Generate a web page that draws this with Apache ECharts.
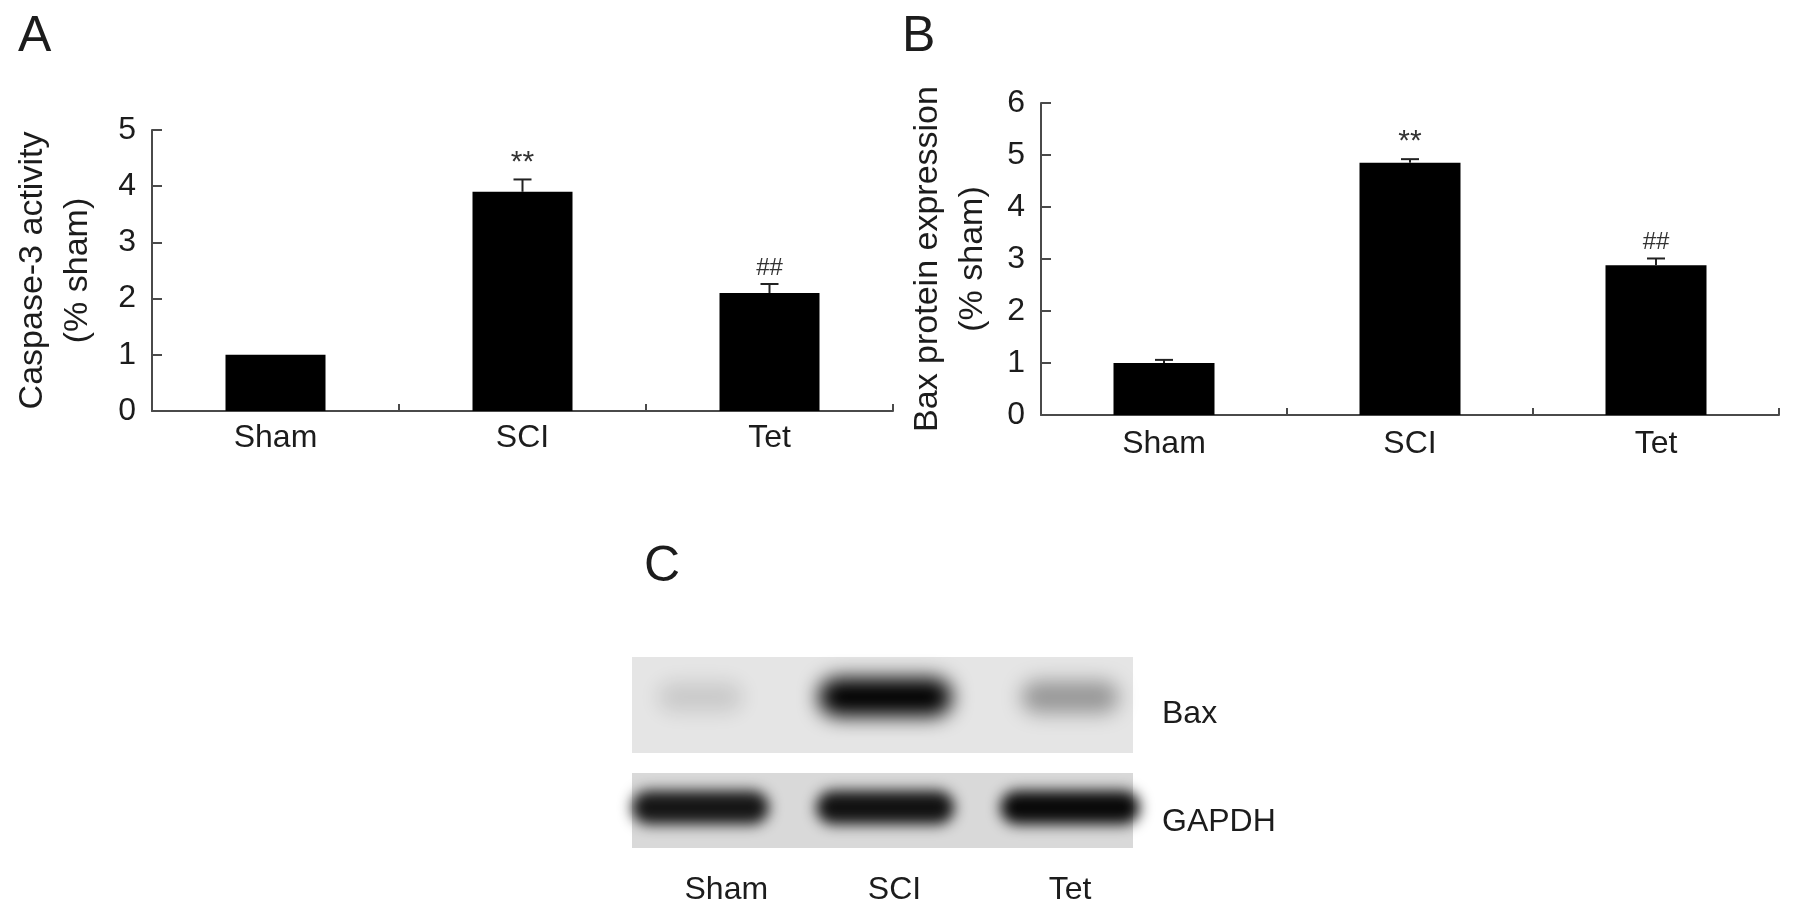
<!DOCTYPE html>
<html>
<head>
<meta charset="utf-8">
<script src="https://cdn.jsdelivr.net/npm/echarts@6/dist/echarts.min.js"></script>
<style>
  html, body { margin: 0; padding: 0; background: #fff; }
  #main { width: 1795px; height: 920px; }
</style>
</head>
<body>
<div id="main"></div>
<script>
// groups
var groups = ['Sham', 'SCI', 'Tet'];

// A: caspase-3 activity (% sham)
var caspaseMean = [1.0, 3.9, 2.1];
var caspaseErr = [0, 0.22, 0.16];
var caspaseSig = ['', '**', '##'];

// B: Bax protein expression (% sham)
var baxMean = [1.0, 4.85, 2.88];
var baxErr = [0.06, 0.07, 0.13];
var baxSig = ['', '**', '##'];

// C: blot band density (0..1)
var bandBax = [0.25, 0.9, 0.42];
var bandGapdh = [0.95, 0.96, 0.98];

var font = "'Liberation Sans', Arial, sans-serif";
var ink = '#1c1c1c';
var axisInk = '#4a4a4a';

var myChart = echarts.init(document.getElementById('main'));

function errData(mean, err, sig) {
  return mean.map(function (m, i) { return [i, m, err[i], sig[i]]; });
}

function renderErr(params, api) {
  var i = api.value(0), m = api.value(1), e = api.value(2);
  var s = params.seriesName === 'errB' ? baxSig[params.dataIndex] : caspaseSig[params.dataIndex];
  var base = api.coord([i, m]);
  var top = api.coord([i, m + e]);
  var kids = [];
  if (e > 0) {
    kids.push({ type: 'line', shape: { x1: top[0], y1: base[1], x2: top[0], y2: top[1] },
      style: { stroke: '#222', lineWidth: 2 } });
    kids.push({ type: 'line', shape: { x1: top[0] - 9, y1: top[1], x2: top[0] + 9, y2: top[1] },
      style: { stroke: '#222', lineWidth: 2 } });
  }
  if (s) {
    kids.push({ type: 'text', x: top[0], y: top[1] - (s === '**' ? 2 : 4),
      style: { text: s, fontFamily: font, fontSize: s === '**' ? 30 : 24, fill: '#333',
        align: 'center', verticalAlign: 'bottom' } });
  }
  return { type: 'group', children: kids };
}

// a blurred band: the shape sits off canvas, only its shadow lands on the lane
var FAR = 3000;
function makeBandRenderer(blur, dy, gain, hBase) {
  return function (params, api) {
    var v = api.value(1);
    var c = api.coord([api.value(0), 0]);
    var w = 66 + 75 * v, h = hBase + 14 * v;
    var a = Math.min(1, v * gain);
    var col = 'rgba(0,0,0,' + a.toFixed(3) + ')';
    return {
      type: 'rect',
      shape: { x: c[0] - w / 2 + FAR, y: c[1] - h / 2 + dy, width: w, height: h, r: h / 2 },
      style: { fill: col, shadowColor: col, shadowBlur: blur, shadowOffsetX: -FAR, shadowOffsetY: 0 }
    };
  };
}

function bandData(vals) {
  return vals.map(function (v, i) { return [i, v]; });
}

option = {
  animation: false,
  backgroundColor: '#fff',
  textStyle: { fontFamily: font },
  title: [
    { text: 'A', left: 18, top: 12, padding: 0, textStyle: { fontSize: 50, fontWeight: 'normal', color: ink, fontFamily: font } },
    { text: 'B', left: 902, top: 12, padding: 0, textStyle: { fontSize: 50, fontWeight: 'normal', color: ink, fontFamily: font } },
    { text: 'C', left: 644, top: 542, padding: 0, textStyle: { fontSize: 50, fontWeight: 'normal', color: ink, fontFamily: font } }
  ],
  grid: [
    { left: 152, top: 130, width: 741, height: 281 },
    { left: 1041, top: 103, width: 738, height: 312 },
    { left: 632, top: 657, width: 501, height: 96, show: true, backgroundColor: '#e5e5e5', borderWidth: 0 },
    { left: 632, top: 773, width: 501, height: 75, show: true, backgroundColor: '#d9d9d9', borderWidth: 0 }
  ],
  xAxis: [
    { gridIndex: 0, type: 'category', data: groups,
      axisLine: { show: true, lineStyle: { color: axisInk, width: 2 } },
      axisTick: { show: true, inside: true, length: 7, lineStyle: { color: axisInk, width: 2 } },
      axisLabel: { fontSize: 32, color: ink, margin: 11, fontFamily: font } },
    { gridIndex: 1, type: 'category', data: groups,
      axisLine: { show: true, lineStyle: { color: axisInk, width: 2 } },
      axisTick: { show: true, inside: true, length: 7, lineStyle: { color: axisInk, width: 2 } },
      axisLabel: { fontSize: 32, color: ink, margin: 13, fontFamily: font } },
    { gridIndex: 2, type: 'value', min: -0.37, max: 2.34,
      axisLine: { show: false }, axisTick: { show: false }, splitLine: { show: false }, axisLabel: { show: false } },
    { gridIndex: 3, type: 'value', min: -0.37, max: 2.34,
      axisLine: { show: false }, axisTick: { show: false }, splitLine: { show: false },
      axisLabel: { customValues: [0.14, 1.05, 2.0], fontSize: 32, color: ink, margin: 26, fontFamily: font,
        formatter: function (v) { return groups[Math.round(v)]; } } }
  ],
  yAxis: [
    { gridIndex: 0, type: 'value', min: 0, max: 5, interval: 1,
      name: 'Caspase-3 activity\n(% sham)', nameLocation: 'middle', nameRotate: 90, nameGap: 52,
      nameTextStyle: { fontSize: 34, color: ink, lineHeight: 45, fontFamily: font },
      axisLine: { show: true, lineStyle: { color: axisInk, width: 2 } },
      axisTick: { show: true, inside: true, length: 10, lineStyle: { color: axisInk, width: 2 } },
      splitLine: { show: false },
      axisLabel: { fontSize: 32, color: ink, margin: 16, fontFamily: font } },
    { gridIndex: 1, type: 'value', min: 0, max: 6, interval: 1,
      name: 'Bax protein expression\n(% sham)', nameLocation: 'middle', nameRotate: 90, nameGap: 46,
      nameTextStyle: { fontSize: 34, color: ink, lineHeight: 45, fontFamily: font },
      axisLine: { show: true, lineStyle: { color: axisInk, width: 2 } },
      axisTick: { show: true, inside: true, length: 10, lineStyle: { color: axisInk, width: 2 } },
      splitLine: { show: false },
      axisLabel: { fontSize: 32, color: ink, margin: 16, fontFamily: font } },
    { gridIndex: 2, type: 'value', min: -1, max: 1, position: 'right',
      axisLine: { show: false }, axisTick: { show: false }, splitLine: { show: false },
      axisLabel: { customValues: [-0.2], fontSize: 32, color: ink, margin: 29, fontFamily: font,
        formatter: function () { return 'Bax'; } } },
    { gridIndex: 3, type: 'value', min: -1, max: 1, position: 'right',
      axisLine: { show: false }, axisTick: { show: false }, splitLine: { show: false },
      axisLabel: { customValues: [-0.3], fontSize: 32, color: ink, margin: 29, fontFamily: font,
        formatter: function () { return 'GAPDH'; } } }
  ],
  series: [
    { name: 'barA', type: 'bar', xAxisIndex: 0, yAxisIndex: 0, data: caspaseMean,
      barWidth: 100, itemStyle: { color: '#000' } },
    { name: 'errA', type: 'custom', xAxisIndex: 0, yAxisIndex: 0, data: errData(caspaseMean, caspaseErr, caspaseSig),
      renderItem: renderErr, encode: { x: 0, y: 1 }, z: 3 },
    { name: 'barB', type: 'bar', xAxisIndex: 1, yAxisIndex: 1, data: baxMean,
      barWidth: 101, itemStyle: { color: '#000' } },
    { name: 'errB', type: 'custom', xAxisIndex: 1, yAxisIndex: 1, data: errData(baxMean, baxErr, baxSig),
      renderItem: renderErr, encode: { x: 0, y: 1 }, z: 3 },
    { name: 'blotBax', type: 'custom', xAxisIndex: 2, yAxisIndex: 2, clip: false, silent: true,
      data: bandData(bandBax), renderItem: makeBandRenderer(20, -8, 1.4, 26), encode: { x: 0 } },
    { name: 'blotGapdh', type: 'custom', xAxisIndex: 3, yAxisIndex: 3, clip: false, silent: true,
      data: bandData(bandGapdh), renderItem: makeBandRenderer(14, -3, 1.0, 20), encode: { x: 0 } }
  ]
};

myChart.setOption(option);
</script>
</body>
</html>
